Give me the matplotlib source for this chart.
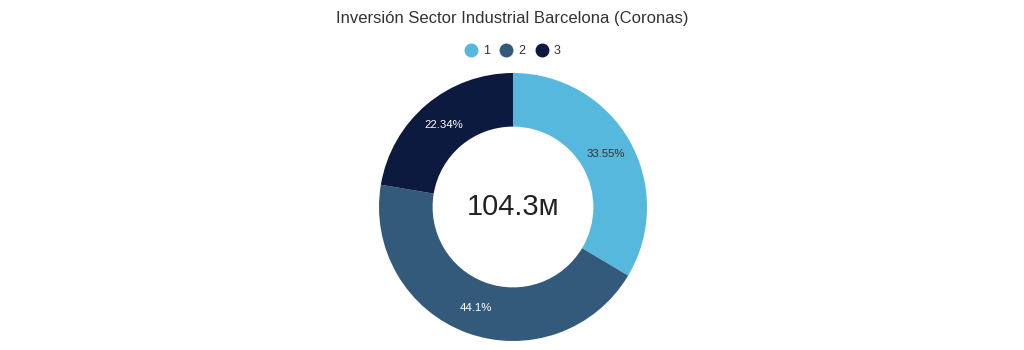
import matplotlib
matplotlib.use("Agg")
import matplotlib.pyplot as plt
from matplotlib.lines import Line2D
import numpy as np

plt.rcParams['font.family'] = ['Liberation Sans', 'DejaVu Sans']

# Data
categories = ["1", "2", "3"]
shares = [33.55, 44.1, 22.34]
share_labels = ["33.55%", "44.1%", "22.34%"]
total_label = "104.3м"
colors = ["#55b8dc", "#335a7b", "#0d1a40"]
label_colors = ["#333333", "white", "white"]

W, H = 1024, 350
fig = plt.figure(figsize=(W / 100, H / 100), dpi=100)

cx, cy, r = 513, 207, 134
ax = fig.add_axes([(cx - r) / W, (H - cy - r) / H, 2 * r / W, 2 * r / H])
wedges, _ = ax.pie(shares, colors=colors, startangle=90, counterclock=False,
                   radius=1.0, wedgeprops=dict(width=0.4, edgecolor="none"))
ax.set_xlim(-1, 1)
ax.set_ylim(-1, 1)
ax.axis("off")

tot = sum(shares)
angle = 90.0
for val, lab, col in zip(shares, share_labels, label_colors):
    sweep = 360.0 * val / tot
    mid = np.deg2rad(angle - sweep / 2)
    ax.text(0.8 * np.cos(mid), 0.8 * np.sin(mid), lab, ha="center", va="center",
            fontsize=8.2, color=col)
    angle -= sweep

ax.text(0, 0, total_label, ha="center", va="center", fontsize=21, color="#222222")

fig.text(0.5, 1 - 18 / H, "Inversión Sector Industrial Barcelona (Coronas)",
         ha="center", va="center", fontsize=12, color="#333333")

handles = [Line2D([0], [0], marker="o", linestyle="none", markersize=9,
                  markerfacecolor=c, markeredgecolor=c) for c in colors]
fig.legend(handles, categories, loc="center", bbox_to_anchor=(0.5, 1 - 51 / H),
           ncol=3, frameon=False, fontsize=9, handletextpad=0.35,
           handlelength=1.2, columnspacing=0.7, labelcolor="#333333")

fig.savefig("out.png", dpi=100, facecolor="white")
